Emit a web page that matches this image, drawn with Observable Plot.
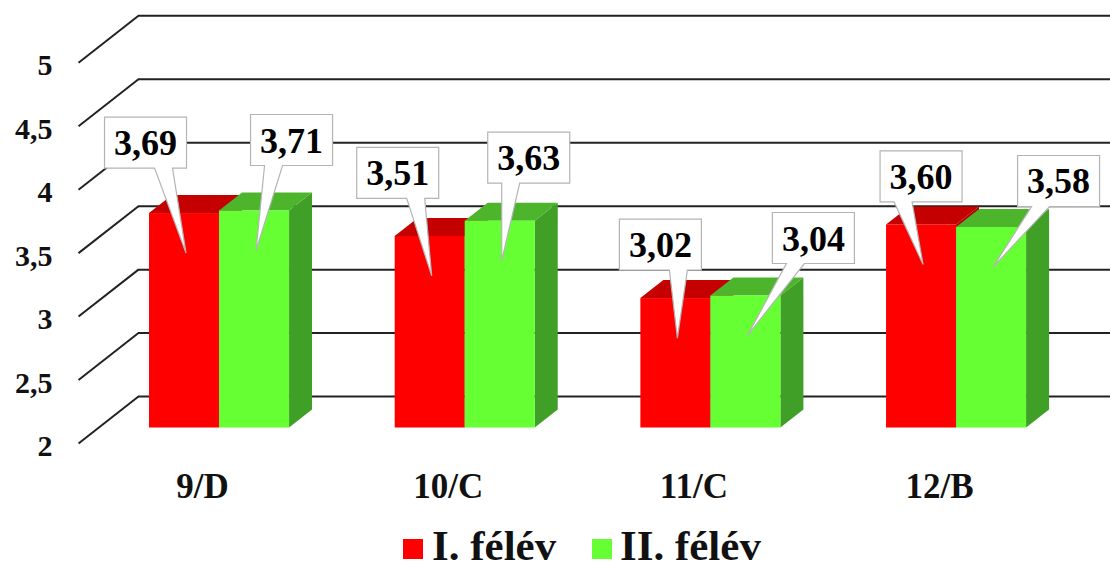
<!DOCTYPE html>
<html>
<head>
<meta charset="utf-8">
<script src="https://cdn.jsdelivr.net/npm/d3@7"></script>
<script src="https://cdn.jsdelivr.net/npm/@observablehq/plot@0.6"></script>
<style>
  html, body { margin: 0; padding: 0; background: #ffffff; }
  #chart { width: 1110px; }
  svg { display: block; }
</style>
</head>
<body>
<div id="chart"></div>
<script>
// ---------------- data ----------------
const categories = ["9/D", "10/C", "11/C", "12/B"];
const seriesNames = ["I. félév", "II. félév"];
const sem1 = [3.69, 3.51, 3.02, 3.60];
const sem2 = [3.71, 3.63, 3.04, 3.58];
const yTicks = [2, 2.5, 3, 3.5, 4, 4.5, 5];

// ---------------- style / layout ----------------
const FONT = "'Liberation Serif', 'Times New Roman', serif";
const frontColors = ["#ff0000", "#66ff33"];
const topColors = ["#c40000", "#4cb52c"];
const sideColors = ["#b00000", "#3f9f27"];
const GRID = "#222222";

const BAR_W = 0.285;        // bar width in category units
const DEPTH_X = 0.0936;     // 3D depth, x units
const DEPTH_Y = 0.1418;     // 3D depth, y units
const WALL_BACK_X = -0.33;
const WALL_RIGHT_X = 3.7;
const FLOOR_FRONT_X = -0.574;
const WALL_BACK_DY = 0.248;
const FLOOR_FRONT_DY = -0.122;
const TIP_DROP = 40;        // px below bar top where callout pointer ends
// callout box centre offsets from the pointer tip (px), one per bar (series I then II per category)
const calloutOffsets = [
  [-40.5, -110.5], [35.5, -110.5],
  [-34, -103], [27, -103],
  [-17, -93.5], [66, -97.5],
  [-2, -88], [65.5, -86]
];
const BOX_W = 82, BOX_H = 51;

// ---------------- derived tables ----------------
const values = [sem1, sem2];
const rows = [];
categories.forEach((c, i) => {
  values.forEach((arr, s) => {
    rows.push({cat: c, i, s, v: arr[i], x1: i + (s - 1) * BAR_W, x2: i + s * BAR_W});
  });
});
const bySeries = s => rows.filter(r => r.s === s);
const sideData = s => bySeries(s).flatMap((r, k) => [
  {k, x: r.x2, y1: 2, y2: r.v},
  {k, x: r.x2 + DEPTH_X, y1: 2 + DEPTH_Y, y2: r.v + DEPTH_Y}
]);
const topData = s => bySeries(s).flatMap((r, k) => [
  {k, y: r.v, x1: r.x1, x2: r.x2},
  {k, y: r.v + DEPTH_Y, x1: r.x1 + DEPTH_X, x2: r.x2 + DEPTH_X}
]);
const fmt = v => String(v).replace(".", ",");
const fmt2 = v => v.toFixed(2).replace(".", ",");

function barMarks(s) {
  return [
    Plot.areaY(sideData(s), {x: "x", y1: "y1", y2: "y2", z: "k", fill: sideColors[s]}),
    Plot.areaX(topData(s), {y: "y", x1: "x1", x2: "x2", z: "k", fill: topColors[s]}),
    Plot.rect(bySeries(s), {x1: "x1", x2: "x2", y1: () => 2, y2: "v", fill: frontColors[s]})
  ];
}

function callouts(index, scales) {
  const g = d3.create("svg:g");
  rows.forEach((r, k) => {
    const tx = scales.x((r.x1 + r.x2) / 2) + 2;
    const ty = scales.y(r.v) + TIP_DROP;
    const [ox, oy] = calloutOffsets[k];
    const cx = tx + ox, cy = ty + oy;
    const x0 = cx - BOX_W / 2, x1 = cx + BOX_W / 2;
    const y0 = cy - BOX_H / 2, y1 = cy + BOX_H / 2;
    const sign = ox < -10 ? 1 : -1;
    const bm = cx + 18 * sign;
    const path = `M${x0},${y0}H${x1}V${y1}H${bm + 9}L${tx},${ty}L${bm - 9},${y1}H${x0}Z`;
    g.append("path")
      .attr("d", path)
      .attr("fill", "#ffffff")
      .attr("stroke", "#b4b4b4")
      .attr("stroke-width", 1.2);
    g.append("text")
      .attr("x", cx)
      .attr("y", cy + 12.5)
      .attr("text-anchor", "middle")
      .attr("font-family", FONT)
      .attr("font-weight", "bold")
      .attr("font-size", 36)
      .attr("fill", "#000")
      .text(fmt2(r.v));
  });
  return g.node();
}

const chart = Plot.plot({
  width: 1110,
  height: 515,
  margin: 0,
  style: {background: "#ffffff", fontFamily: FONT},
  x: {type: "linear", domain: [-0.5, 3.5], range: [96.2, 1078.9], axis: null},
  y: {type: "linear", domain: [2, 5], range: [427.5, 46.8], axis: null},
  marks: [
    Plot.ruleY(yTicks, {y: d => d + WALL_BACK_DY, x1: () => WALL_BACK_X, x2: () => WALL_RIGHT_X, stroke: GRID, strokeWidth: 2}),
    Plot.link(yTicks, {x1: () => FLOOR_FRONT_X, y1: d => d + FLOOR_FRONT_DY, x2: () => WALL_BACK_X, y2: d => d + WALL_BACK_DY, stroke: GRID, strokeWidth: 2}),
    Plot.text(yTicks, {x: () => FLOOR_FRONT_X, y: d => d + FLOOR_FRONT_DY, text: fmt, textAnchor: "end", lineAnchor: "bottom", dx: -26, dy: 12.5, fontSize: 30, fontWeight: "bold", fontFamily: FONT, fill: "#111"}),
    ...barMarks(0),
    ...barMarks(1),
    Plot.text(categories, {x: (d, i) => i, y: () => 2, text: d => d, textAnchor: "middle", lineAnchor: "bottom", dx: -17, dy: 69.5, fontSize: 35, fontWeight: "bold", fontFamily: FONT, fill: "#111"}),
    callouts
  ]
});
document.getElementById("chart").appendChild(chart);

// ---------------- legend (below the plot) ----------------
const legend = d3.create("svg").attr("width", 1110).attr("height", 59);
const legendX = [[403, 432], [592, 620]];
seriesNames.forEach((name, s) => {
  legend.append("rect").attr("x", legendX[s][0]).attr("y", 24).attr("width", 20).attr("height", 20).attr("fill", frontColors[s]);
  legend.append("text").attr("x", legendX[s][1]).attr("y", 45)
    .attr("font-family", FONT).attr("font-weight", "bold").attr("font-size", 43).attr("fill", "#111")
    .text(name);
});
document.getElementById("chart").appendChild(legend.node());
</script>
</body>
</html>
